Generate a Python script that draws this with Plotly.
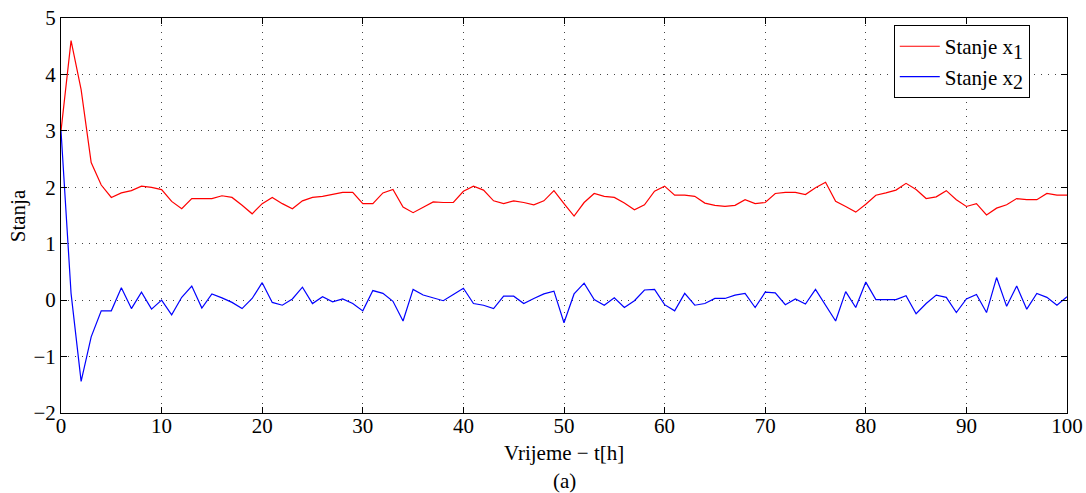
import plotly.graph_objects as go

t = list(range(0, 101))

x1 = [3.0, 4.6, 3.73, 2.44, 2.04, 1.82, 1.90, 1.94, 2.02, 2.0,
      1.96, 1.75, 1.62, 1.80, 1.80, 1.80, 1.85, 1.82, 1.68, 1.53,
      1.71, 1.82, 1.71, 1.62, 1.76, 1.82, 1.84, 1.87, 1.91, 1.91,
      1.71, 1.71, 1.90, 1.96, 1.65, 1.55, 1.65, 1.74, 1.73, 1.73,
      1.93, 2.02, 1.95, 1.76, 1.71, 1.76, 1.73, 1.69, 1.76, 1.94,
      1.71, 1.49, 1.73, 1.89, 1.84, 1.82, 1.72, 1.60, 1.69, 1.93,
      2.02, 1.86, 1.86, 1.84, 1.72, 1.68, 1.66, 1.68, 1.78, 1.71,
      1.73, 1.89, 1.91, 1.91, 1.87, 1.99, 2.09, 1.75, 1.66, 1.56,
      1.70, 1.86, 1.90, 1.95, 2.07, 1.96, 1.80, 1.83, 1.94, 1.78,
      1.66, 1.71, 1.51, 1.63, 1.69, 1.80, 1.78, 1.78, 1.89, 1.86,
      1.86]

x2 = [3.0, 0.12, -1.44, -0.65, -0.19, -0.19, 0.22, -0.15, 0.14, -0.16,
      0.0, -0.26, 0.05, 0.25, -0.14, 0.11, 0.04, -0.04, -0.15, 0.03,
      0.31, -0.04, -0.09, 0.02, 0.23, -0.06, 0.06, -0.03, 0.02, -0.06,
      -0.19, 0.17, 0.12, -0.02, -0.37, 0.19, 0.09, 0.04, -0.01, 0.10,
      0.21, -0.06, -0.09, -0.15, 0.07, 0.07, -0.06, 0.03, 0.11, 0.16,
      -0.40, 0.11, 0.30, 0.01, -0.09, 0.04, -0.13, -0.01, 0.18, 0.19,
      -0.08, -0.19, 0.12, -0.09, -0.06, 0.03, 0.03, 0.09, 0.12, -0.13,
      0.14, 0.13, -0.08, 0.02, -0.07, 0.19, -0.09, -0.37, 0.15, -0.13,
      0.32, 0.01, 0.01, 0.01, 0.08, -0.24, -0.06, 0.09, 0.05, -0.22,
      0.02, 0.10, -0.22, 0.40, -0.11, 0.25, -0.16, 0.12, 0.05, -0.09,
      0.06]

x_ticks = [0, 10, 20, 30, 40, 50, 60, 70, 80, 90, 100]
y_ticks = [-2, -1, 0, 1, 2, 3, 4, 5]
y_tick_labels = ["\u22122", "\u22121", "0", "1", "2", "3", "4", "5"]

FONT = "Liberation Serif"
SUB = "<sub><span style='font-size:20px'>{}</span></sub>"

fig = go.Figure()
fig.add_trace(go.Scatter(x=t, y=x1, mode="lines", name="Stanje x" + SUB.format(1),
                         line=dict(color="#ff0000", width=1.2)))
fig.add_trace(go.Scatter(x=t, y=x2, mode="lines", name="Stanje x" + SUB.format(2),
                         line=dict(color="#0000ff", width=1.2)))

axis_common = dict(showline=True, linecolor="black", linewidth=1, mirror="ticks",
                   ticks="inside", ticklen=6, tickcolor="black",
                   showgrid=True, gridcolor="#444444", griddash="1px,6px", gridwidth=1,
                   zeroline=False, automargin=False,
                   tickfont=dict(family=FONT, size=21, color="black"))

fig.update_xaxes(range=[0, 100], tickvals=x_ticks, ticklabelstandoff=-6, **axis_common)
fig.update_yaxes(range=[-2, 5], tickvals=y_ticks, ticktext=y_tick_labels, **axis_common)

fig.update_layout(
    width=1086, height=493,
    margin=dict(l=61, r=19, t=18, b=80),
    plot_bgcolor="white", paper_bgcolor="white",
    font=dict(family=FONT, size=21, color="black"),
    showlegend=True,
    legend=dict(x=0.963, y=0.982, xanchor="right", yanchor="top",
                bgcolor="white", bordercolor="black", borderwidth=1,
                font=dict(family=FONT, size=21, color="black"),
                tracegroupgap=0, itemwidth=40),
    annotations=[
        dict(text="Vrijeme \u2212 t[h]", xref="paper", yref="paper", x=0.5, y=-0.1,
             showarrow=False, xanchor="center", yanchor="middle",
             font=dict(family=FONT, size=21)),
        dict(text="(a)", xref="paper", yref="paper", x=0.5, y=-0.172,
             showarrow=False, xanchor="center", yanchor="middle",
             font=dict(family=FONT, size=21)),
        dict(text="Stanja", xref="paper", yref="paper", x=-0.043, y=0.5,
             showarrow=False, xanchor="center", yanchor="middle", textangle=-90,
             font=dict(family=FONT, size=21)),
    ],
)

fig.write_html("out.html")
